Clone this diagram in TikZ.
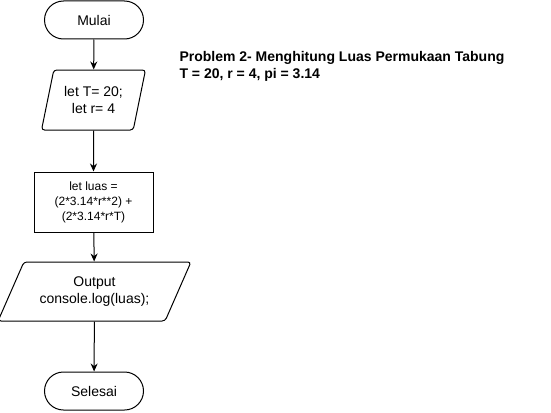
\documentclass[tikz,border=0pt]{standalone}
\usepackage{fontspec}
\setmainfont{Liberation Sans}
\usetikzlibrary{arrows.meta,shapes.geometric}

\begin{document}
\begin{tikzpicture}[x=1pt,y=-1pt,
        every node/.style={font=\fontsize{14}{17}\selectfont,align=center,line width=1pt},
        terminal/.style={draw,rectangle,rounded corners=19pt,minimum width=99pt,minimum height=38pt},
        inout/.style={draw,trapezium,trapezium stretches=true,rounded corners=3pt,inner sep=0pt},
        process/.style={draw,rectangle,minimum width=119pt,minimum height=60pt,font=\fontsize{12}{15}\selectfont},
        flow/.style={-{Stealth[length=8pt,width=7pt]},line width=1pt}]
        \useasboundingbox (0,0) rectangle (551,412);

        \node[terminal] (mulai) at (94,20) {Mulai};
        \node[inout,trapezium left angle=71.6,trapezium right angle=108.4,
              minimum width=104pt,minimum height=60pt] (input) at (93.5,100) {let T= 20;\\let r= 4};
        \node[process] (luas) at (93.5,202) {let luas =\\(2*3.14*r**2) +\\(2*3.14*r*T)};
        \node[inout,trapezium left angle=55.9,trapezium right angle=124.1,
              minimum width=193pt,minimum height=59pt] (output) at (94.5,291.5) {Output\\console.log(luas);};
        \node[terminal] (selesai) at (94,391) {Selesai};

        \draw[flow] (mulai) -- (input);
        \draw[flow] (input) -- (luas);
        \draw[flow] (luas) -- (output);
        \draw[flow] (output) -- (selesai);

        \node[anchor=west,align=left,inner sep=0pt,font=\bfseries\fontsize{14}{17}\selectfont] (judul) at (179,66)
            {Problem 2- Menghitung Luas Permukaan Tabung\\T = 20, r = 4, pi = 3.14};
    \end{tikzpicture}
\end{document}
